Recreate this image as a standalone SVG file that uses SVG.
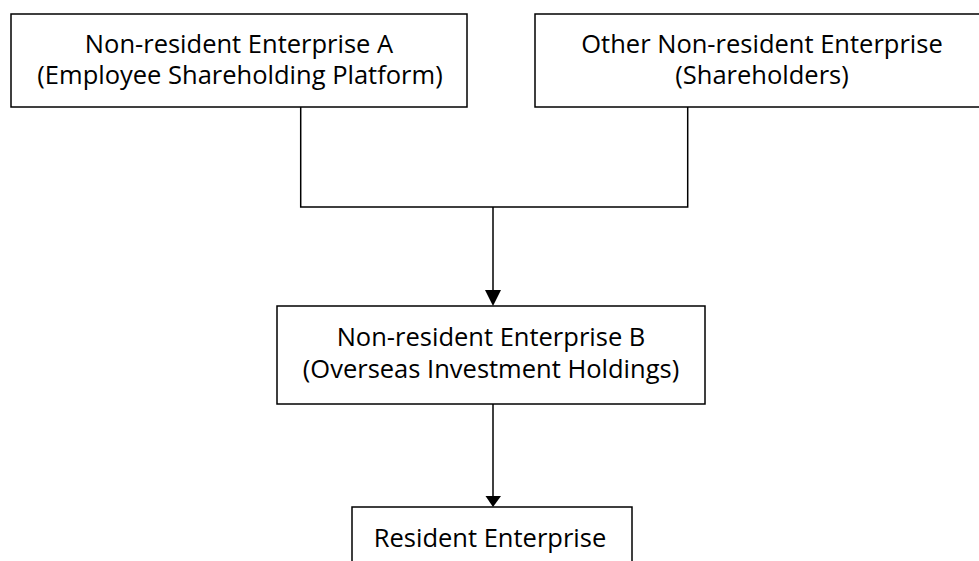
<svg xmlns="http://www.w3.org/2000/svg" width="979" height="561" viewBox="0 0 979 561">
<style>
.box{fill:#fff;stroke:#000;stroke-width:1.5}
.t{font-family:"Open Sans","Liberation Sans",sans-serif;font-size:25.5px;fill:#000;text-anchor:middle}
.c{fill:none;stroke:#000;stroke-width:1.5}
.ah{fill:#000;stroke:none}
</style>
<rect width="979" height="561" fill="#fff"/>
<g id="nodeA">
<rect class="box" x="11" y="14" width="456" height="93"/>
<text class="t" x="239" y="53">Non-resident Enterprise A</text>
<text class="t" x="240" y="84">(Employee Shareholding Platform)</text>
</g>
<g id="nodeOther">
<rect class="box" x="535" y="14" width="454" height="93"/>
<text class="t" x="762" y="53">Other Non-resident Enterprise</text>
<text class="t" x="762" y="84">(Shareholders)</text>
</g>
<g id="nodeB">
<rect class="box" x="277" y="306" width="428" height="98"/>
<text class="t" x="491" y="346">Non-resident Enterprise B</text>
<text class="t" x="491" y="377.5">(Overseas Investment Holdings)</text>
</g>
<g id="nodeResident">
<rect class="box" x="352" y="507" width="280" height="80"/>
<text class="t" x="490" y="546.5">Resident Enterprise</text>
</g>
<g id="connectors">
<polyline class="c" points="300.7,107 300.7,207 687.7,207 687.7,107"/>
<line class="c" x1="493" y1="207" x2="493" y2="292"/>
<polygon class="ah" points="485,290 501,290 493,306"/>
<line class="c" x1="493" y1="404" x2="493" y2="498"/>
<polygon class="ah" points="485.5,496 501,496 493,507"/>
</g>
</svg>
